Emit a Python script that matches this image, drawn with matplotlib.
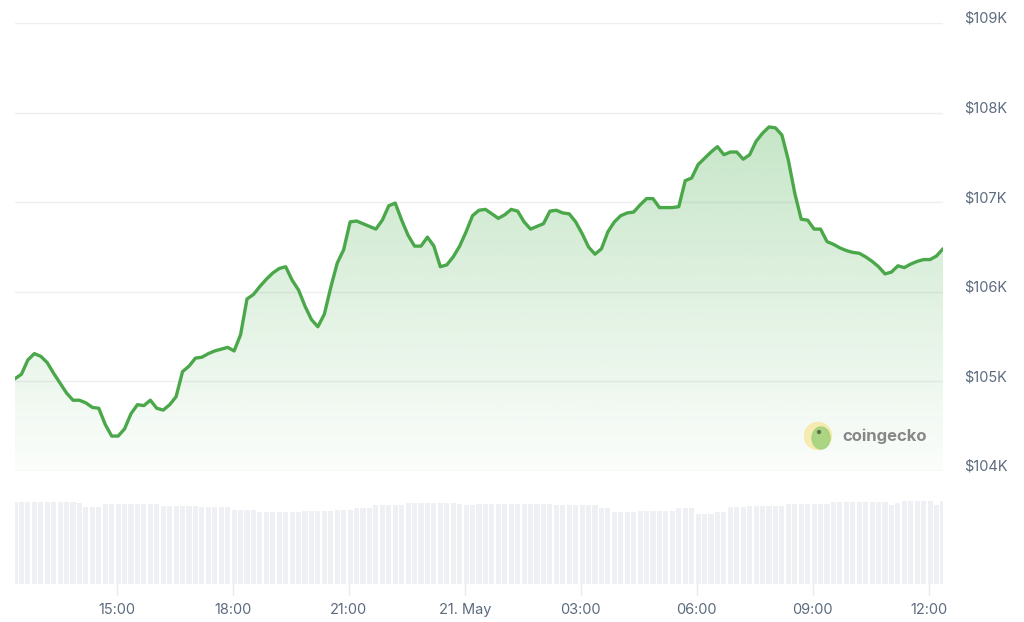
import numpy as np
import matplotlib
matplotlib.use("Agg")
import matplotlib.pyplot as plt
from matplotlib.patches import Ellipse

plt.rcParams['font.family'] = ['Inter', 'DejaVu Sans']

# BTC price (USD thousands), one point every 10 minutes from 12:22 on 20 May
price_k = [105.03, 105.08, 105.24, 105.31, 105.28, 105.21, 105.09, 104.98, 104.87, 104.79,
           104.79, 104.76, 104.71, 104.70, 104.52, 104.39, 104.39, 104.47, 104.64, 104.74,
           104.73, 104.79, 104.70, 104.68, 104.74, 104.83, 105.11, 105.17, 105.26, 105.27,
           105.31, 105.34, 105.36, 105.38, 105.34, 105.52, 105.92, 105.97, 106.06, 106.14,
           106.21, 106.26, 106.28, 106.13, 106.02, 105.84, 105.69, 105.61, 105.75, 106.05,
           106.32, 106.47, 106.78, 106.79, 106.76, 106.73, 106.70, 106.80, 106.96, 106.99,
           106.80, 106.63, 106.51, 106.51, 106.61, 106.51, 106.28, 106.30, 106.39, 106.51,
           106.67, 106.85, 106.91, 106.92, 106.87, 106.82, 106.86, 106.92, 106.90, 106.78,
           106.70, 106.73, 106.76, 106.90, 106.91, 106.88, 106.87, 106.78, 106.65, 106.50,
           106.42, 106.48, 106.67, 106.78, 106.85, 106.88, 106.89, 106.97, 107.04, 107.04,
           106.94, 106.94, 106.94, 106.95, 107.24, 107.27, 107.42, 107.49, 107.56, 107.62,
           107.53, 107.56, 107.56, 107.48, 107.53, 107.68, 107.77, 107.84, 107.83, 107.75,
           107.47, 107.10, 106.81, 106.80, 106.70, 106.70, 106.56, 106.53, 106.49, 106.46,
           106.44, 106.43, 106.39, 106.34, 106.28, 106.20, 106.22, 106.29, 106.27, 106.31,
           106.34, 106.36, 106.36, 106.40, 106.48]

# traded volume (USD billions) for the same intervals
volume_b = [41, 41, 41, 41, 41, 41, 41, 41, 41, 41,
            40.5, 38.5, 38.5, 38.5, 40, 40, 40, 40, 40, 40,
            40, 40, 40, 39, 39, 39, 39, 39, 39, 38.5,
            38.5, 38.5, 38.5, 38.5, 37, 37, 37, 37, 36, 36,
            36, 36, 36, 36, 36, 36.5, 36.5, 36.5, 36.5, 36.5,
            37, 37, 37, 38, 38, 38, 39.5, 39.5, 39.5, 39.5,
            39.5, 40.5, 40.5, 40.5, 40.5, 40.5, 40.5, 40.5, 40.5, 40,
            39.5, 39.5, 40, 40, 40, 40, 40, 40, 40, 40,
            40, 40, 40, 40, 39.5, 39.5, 39.5, 39.5, 39.5, 39.5,
            39.5, 38, 38, 36, 36, 36, 36, 36.5, 36.5, 36.5,
            36.5, 36.5, 36.5, 38, 38, 38, 35, 35, 35, 36,
            36, 38.5, 38.5, 38.5, 39, 39, 39, 39, 39, 39,
            40, 40, 40, 40, 40, 40, 40, 41, 41, 41,
            41, 41, 41, 41, 41, 41, 39.5, 40.5, 41.5, 41.5,
            41.5, 41.5, 41.5, 39.5, 41.5]

tick_hours = [15, 18, 21, 24, 27, 30, 33, 36]
tick_labels = ['15:00', '18:00', '21:00', '21. May', '03:00', '06:00', '09:00', '12:00']
price_ticks = [104000, 105000, 106000, 107000, 108000, 109000]

start_hour = 12 + 22 / 60
step = 10 / 60
prices = np.array(price_k) * 1000
hours = start_hour + step * np.arange(len(prices))
x0, x1 = hours[0], hours[-1]

line_color = '#4aa84a'
label_color = '#5d6b7e'

fig = plt.figure(figsize=(10.24, 6.22), dpi=100)
ax = fig.add_axes([15 / 1024, 1 - 471 / 622, 928 / 1024, 448 / 622])
axv = fig.add_axes([15 / 1024, 1 - 584 / 622, 928 / 1024, 88 / 622])

# price line with gradient fill
ax.plot(hours, prices, color=line_color, lw=2.4, zorder=3,
        solid_joinstyle='round', solid_capstyle='round')
poly = ax.fill_between(hours, prices, 104000, color='none', lw=0)
grad = np.zeros((256, 1, 4))
green = np.array([76, 175, 80]) / 255
grad[:, 0, :3] = green
grad[:, 0, 3] = np.linspace(0.02, 0.33, 256)
im = ax.imshow(grad, extent=[x0, x1, 104000, 108000], aspect='auto',
               origin='lower', zorder=2, interpolation='bilinear')
im.set_clip_path(poly.get_paths()[0], transform=ax.transData)

ax.set_xlim(x0, x1)
ax.set_ylim(104000, 109000)
ax.set_yticks(price_ticks)
ax.set_yticklabels([f'${v // 1000}K' for v in price_ticks])
ax.yaxis.tick_right()
ax.tick_params(axis='y', length=0, pad=15, labelsize=10.5, labelcolor=label_color)
for lab in ax.get_yticklabels():
    lab.set_verticalalignment('baseline')
ax.set_xticks([])
ax.grid(axis='y', color='#efeff3', lw=1)
ax.set_axisbelow(True)
for s in ax.spines.values():
    s.set_visible(False)

# volume bars
axv.bar(hours, volume_b, width=step * 0.8, color='#eef0f4', lw=0)
axv.set_xlim(x0, x1)
axv.set_ylim(0, 44)
axv.set_yticks([])
axv.set_xticks(tick_hours)
axv.set_xticklabels(tick_labels)
axv.tick_params(axis='x', length=8, width=1, color='#e8eaee', pad=6,
                labelsize=10.5, labelcolor=label_color)
for s in axv.spines.values():
    s.set_visible(False)

# coingecko watermark
fig.patches.append(Ellipse((818 / 1024, 1 - 436 / 622), 27 / 1024, 27 / 622,
                           transform=fig.transFigure, color='#f7e9a6', alpha=0.85, zorder=5))
fig.patches.append(Ellipse((821 / 1024, 1 - 438 / 622), 18 / 1024, 22 / 622,
                           transform=fig.transFigure, color='#9ed27a', alpha=0.85, zorder=6))
fig.patches.append(Ellipse((819 / 1024, 1 - 432 / 622), 3 / 1024, 3 / 622,
                           transform=fig.transFigure, color='#4a5a3a', alpha=0.7, zorder=7))
fig.text(842 / 1024, 1 - 436 / 622, 'coingecko', fontsize=12, fontweight='bold',
         color='#7b7b7b', va='center', ha='left', alpha=0.9)

fig.savefig('out.png', dpi=100, facecolor='white')
